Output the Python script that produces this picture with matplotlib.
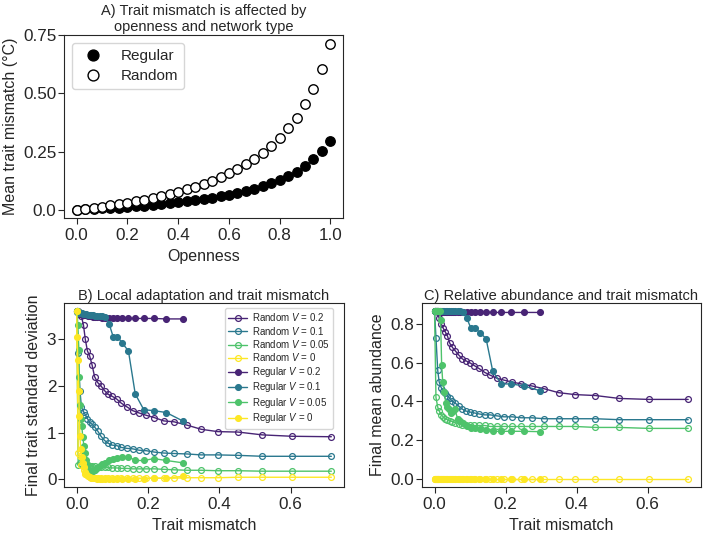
import numpy as np
import matplotlib
matplotlib.use("Agg")
import matplotlib.pyplot as plt
import seaborn as sns

# openness sweep and resulting trait mismatch (panel A, also x of B and C)
openness = [0.0, 0.033, 0.067, 0.1, 0.133, 0.167, 0.2, 0.233, 0.267, 0.3, 0.333,
            0.367, 0.4, 0.433, 0.467, 0.5, 0.533, 0.567, 0.6, 0.633, 0.667, 0.7,
            0.733, 0.767, 0.8, 0.833, 0.867, 0.9, 0.933, 0.967, 1.0]
mismatch_random = [0.0, 0.004, 0.009, 0.013, 0.019, 0.024, 0.030, 0.036, 0.043, 0.050,
                   0.059, 0.068, 0.078, 0.088, 0.099, 0.112, 0.125, 0.141, 0.157, 0.175,
                   0.195, 0.218, 0.244, 0.273, 0.309, 0.349, 0.395, 0.453, 0.520, 0.603, 0.714]
mismatch_regular = [0.0, 0.001, 0.003, 0.006, 0.007, 0.009, 0.011, 0.014, 0.017, 0.020,
                    0.023, 0.027, 0.032, 0.036, 0.040, 0.046, 0.052, 0.057, 0.065, 0.072,
                    0.080, 0.091, 0.102, 0.114, 0.128, 0.145, 0.164, 0.188, 0.216, 0.251, 0.297]

v_labels = ["0.2", "0.1", "0.05", "0"]

# final trait standard deviation (panel B)
sd_random = [
    [3.6, 3.6, 3.55, 3.5, 3.3, 3.0, 2.75, 2.65, 2.45, 2.2, 2.07, 2.0, 1.9, 1.82, 1.78, 1.72,
     1.63, 1.55, 1.47, 1.42, 1.37, 1.32, 1.25, 1.23, 1.16, 1.07, 1.02, 1.01, 0.95, 0.92, 0.91],
    [3.6, 2.7, 1.9, 1.55, 1.45, 1.38, 1.3, 1.22, 1.18, 1.12, 1.03, 0.92, 0.83, 0.77, 0.73, 0.72,
     0.68, 0.66, 0.65, 0.62, 0.61, 0.58, 0.56, 0.55, 0.54, 0.52, 0.52, 0.51, 0.49, 0.49, 0.49],
    [3.6, 0.3, 0.35, 0.33, 0.32, 0.3, 0.3, 0.29, 0.28, 0.28, 0.27, 0.26, 0.26, 0.25, 0.24, 0.24,
     0.23, 0.23, 0.22, 0.22, 0.22, 0.22, 0.21, 0.2, 0.19, 0.19, 0.18, 0.18, 0.17, 0.17, 0.17],
    [3.6, 0.55, 0.5, 0.3, 0.2, 0.12, 0.08, 0.05, 0.04, 0.03, 0.03, 0.02, 0.02, 0.02, 0.02, 0.02,
     0.02, 0.02, 0.02, 0.02, 0.02, 0.02, 0.02, 0.02, 0.03, 0.03, 0.03, 0.04, 0.04, 0.04, 0.04],
]
sd_regular = [
    [3.6, 3.6, 3.58, 3.57, 3.56, 3.55, 3.55, 3.54, 3.53, 3.53, 3.52, 3.52, 3.51, 3.5, 3.5, 3.49,
     3.49, 3.48, 3.48, 3.47, 3.47, 3.47, 3.46, 3.46, 3.46, 3.45, 3.45, 3.45, 3.45, 3.44, 3.44],
    [3.6, 3.59, 3.58, 3.58, 3.57, 3.57, 3.56, 3.56, 3.55, 3.55, 3.54, 3.54, 3.53, 3.53, 3.52, 3.52,
     3.51, 3.51, 3.5, 3.5, 3.49, 3.33, 3.06, 3.06, 2.92, 2.75, 1.83, 1.49, 1.47, 1.43, 1.25],
    [3.6, 3.6, 3.3, 2.78, 2.2, 1.6, 1.3, 1.15, 0.9, 0.72, 0.55, 0.4, 0.3, 0.2, 0.17, 0.18,
     0.2, 0.24, 0.28, 0.32, 0.35, 0.4, 0.43, 0.46, 0.48, 0.48, 0.4, 0.4, 0.44, 0.4, 0.35],
    [3.6, 3.05, 2.55, 1.9, 1.35, 0.92, 0.65, 0.48, 0.35, 0.25, 0.15, 0.1, 0.06, 0.04, 0.03, 0.02,
     0.02, 0.01, 0.01, 0.01, 0.01, 0.01, 0.01, 0.01, 0.01, 0.01, 0.01, 0.01, 0.02, 0.02, 0.06],
]

# final mean abundance (panel C)
ab_random = [
    [0.865, 0.865, 0.86, 0.83, 0.80, 0.78, 0.76, 0.74, 0.70, 0.68, 0.66, 0.64, 0.62, 0.61, 0.60,
     0.585, 0.57, 0.55, 0.535, 0.52, 0.51, 0.50, 0.49, 0.48, 0.465, 0.445, 0.435, 0.43, 0.415, 0.41, 0.41],
    [0.865, 0.73, 0.56, 0.50, 0.47, 0.455, 0.445, 0.43, 0.415, 0.40, 0.39, 0.375, 0.36, 0.35, 0.345,
     0.34, 0.335, 0.33, 0.33, 0.325, 0.32, 0.32, 0.315, 0.315, 0.31, 0.31, 0.31, 0.31, 0.305, 0.305, 0.305],
    [0.865, 0.42, 0.37, 0.35, 0.33, 0.32, 0.31, 0.305, 0.30, 0.295, 0.29, 0.285, 0.28, 0.28, 0.28,
     0.275, 0.275, 0.275, 0.27, 0.27, 0.27, 0.27, 0.27, 0.27, 0.27, 0.27, 0.27, 0.265, 0.265, 0.26, 0.26],
    [0.0, 0.0, 0.0, 0.0, 0.0, 0.0, 0.0, 0.0, 0.0, 0.0, 0.0, 0.0, 0.0, 0.0, 0.0, 0.0,
     0.0, 0.0, 0.0, 0.0, 0.0, 0.0, 0.0, 0.0, 0.0, 0.0, 0.0, 0.0, 0.0, 0.0, 0.0],
]
ab_regular = [
    [0.865, 0.865, 0.865, 0.865, 0.865, 0.865, 0.865, 0.865, 0.864, 0.864, 0.864, 0.864, 0.863, 0.863,
     0.863, 0.863, 0.862, 0.862, 0.862, 0.862, 0.861, 0.861, 0.861, 0.861, 0.86, 0.86, 0.86, 0.86, 0.86, 0.86, 0.86],
    [0.865, 0.865, 0.865, 0.865, 0.865, 0.865, 0.865, 0.865, 0.865, 0.865, 0.865, 0.865, 0.865, 0.865,
     0.865, 0.865, 0.865, 0.865, 0.865, 0.865, 0.86, 0.83, 0.78, 0.78, 0.755, 0.725, 0.555, 0.49, 0.49, 0.48, 0.455],
    [0.865, 0.865, 0.865, 0.865, 0.865, 0.865, 0.865, 0.865, 0.82, 0.59, 0.5, 0.45, 0.39, 0.37, 0.36,
     0.34, 0.35, 0.36, 0.31, 0.30, 0.29, 0.27, 0.26, 0.26, 0.255, 0.25, 0.245, 0.245, 0.245, 0.245, 0.243],
    [0.0, 0.0, 0.0, 0.0, 0.0, 0.0, 0.0, 0.0, 0.0, 0.0, 0.0, 0.0, 0.0, 0.0, 0.0, 0.0,
     0.0, 0.0, 0.0, 0.0, 0.0, 0.0, 0.0, 0.0, 0.0, 0.0, 0.0, 0.0, 0.0, 0.0, 0.0],
]

sns.set_style("ticks")
plt.rcParams["font.family"] = ["Liberation Sans", "DejaVu Sans"]
plt.rcParams["mathtext.fontset"] = "custom"
plt.rcParams["mathtext.it"] = "Liberation Sans:italic"
plt.rcParams["mathtext.rm"] = "Liberation Sans"
plt.rcParams["xtick.major.size"] = 4.0
plt.rcParams["ytick.major.size"] = 4.0
plt.rcParams["ytick.major.pad"] = 1.5

colors = plt.cm.viridis([0.1, 0.4, 0.72, 1.0])

fig = plt.figure(figsize=(7.09, 5.33), dpi=100)
axA = fig.add_axes([0.0903, 0.591, 0.3935, 0.343])
axB = fig.add_axes([0.0903, 0.0863, 0.395, 0.345])
axC = fig.add_axes([0.595, 0.0863, 0.3935, 0.345])

# panel A
axA.plot(openness, mismatch_regular, "o", color="black", ms=6.8, mec="black", label="Regular")
axA.plot(openness, mismatch_random, "o", color="black", ms=6.8, mfc="white", mec="black", mew=1.0, label="Random")
axA.set_yticks([0, 0.25, 0.5, 0.75])
axA.set_yticklabels(["0.0", "0.25", "0.50", "0.75"])
axA.set_xticks([0, 0.2, 0.4, 0.6, 0.8, 1.0])
axA.set_xlabel("Openness", fontsize=11.5)
axA.set_ylabel("Mean trait mismatch (°C)", fontsize=11.5)
axA.set_title("A) Trait mismatch is affected by\nopenness and network type", fontsize=10.5, pad=3)
axA.legend(loc="upper left", fontsize=11, markerscale=1.15, labelspacing=0.4,
           borderaxespad=0.5)

# panels B and C
for ax, rand_vals, reg_vals in [(axB, sd_random, sd_regular), (axC, ab_random, ab_regular)]:
    for i, v in enumerate(v_labels):
        ax.plot(mismatch_random, rand_vals[i], "-o", color=colors[i], lw=1.0, ms=4.2,
                mfc="none", mew=0.9, label=f"Random $V$ = {v}")
    for i, v in enumerate(v_labels):
        ax.plot(mismatch_regular, reg_vals[i], "-o", color=colors[i], lw=1.0, ms=4.2,
                mew=0.9, label=f"Regular $V$ = {v}")
    ax.set_xticks([0, 0.2, 0.4, 0.6])
    ax.set_xlabel("Trait mismatch", fontsize=11.5)

axB.set_yticks([0, 1, 2, 3])
axB.set_ylabel("Final trait standard deviation", fontsize=11.5)
axB.set_title("B) Local adaptation and trait mismatch", fontsize=10.5, pad=2)
axB.legend(loc="upper right", fontsize=7, labelspacing=0.15, borderaxespad=0,
           bbox_to_anchor=(0.962, 0.975), borderpad=0.35, handletextpad=0.5)

axC.set_yticks([0, 0.2, 0.4, 0.6, 0.8])
axC.set_ylabel("Final mean abundance", fontsize=11.5)
axC.set_title("C) Relative abundance and trait mismatch", fontsize=10.5, pad=2)

for ax in [axA, axB, axC]:
    ax.tick_params(labelsize=12.3)

fig.savefig("out.png", dpi=100)
